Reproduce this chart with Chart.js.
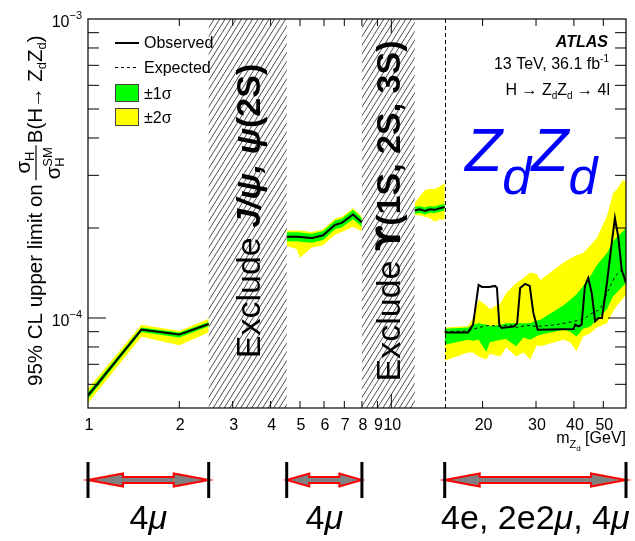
<!DOCTYPE html>
<html>
<head>
<meta charset="utf-8">
<title>ZdZd limit</title>
<script src="https://cdn.jsdelivr.net/npm/chart.js@4.4.1/dist/chart.umd.min.js"></script>
<style>
  html, body { margin: 0; padding: 0; background: #fff; }
  canvas { display: block; }
</style>
</head>
<body>
<canvas id="limitChart" width="635" height="541"></canvas>
<script>
// 4mu, 1 - 2.5 GeV
const lowMass = [1, 1.5, 2, 2.5];
const lowObs = [5.5e-5, 9.15e-5, 8.8e-5, 9.55e-5];
const lowExp = [5.5e-5, 9.12e-5, 8.8e-5, 9.55e-5];
const low1sUp = [5.63e-5, 9.3e-5, 8.95e-5, 9.7e-5];
const low1sDn = [5.37e-5, 8.98e-5, 8.6e-5, 9.38e-5];
const low2sUp = [5.8e-5, 9.5e-5, 9.05e-5, 9.95e-5];
const low2sDn = [5.2e-5, 8.65e-5, 8.1e-5, 8.95e-5];

// 4mu, between J/psi and Upsilon vetoes
const midMass = [4.52, 4.87, 5.0, 5.47, 5.96, 6.52, 6.87, 7.48, 7.99];
const midObs = [1.87e-4, 1.87e-4, 1.865e-4, 1.85e-4, 1.89e-4, 2.05e-4, 2.08e-4, 2.22e-4, 2.09e-4];
const midExp = [1.87e-4, 1.87e-4, 1.865e-4, 1.85e-4, 1.89e-4, 2.05e-4, 2.08e-4, 2.22e-4, 2.09e-4];
const mid1sUp = [1.935e-4, 1.935e-4, 1.93e-4, 1.915e-4, 1.955e-4, 2.12e-4, 2.15e-4, 2.30e-4, 2.16e-4];
const mid1sDn = [1.805e-4, 1.805e-4, 1.80e-4, 1.785e-4, 1.825e-4, 1.98e-4, 2.01e-4, 2.14e-4, 2.02e-4];
const mid2sUp = [1.96e-4, 1.96e-4, 1.96e-4, 1.94e-4, 1.98e-4, 2.15e-4, 2.18e-4, 2.33e-4, 2.19e-4];
const mid2sDn = [1.74e-4, 1.70e-4, 1.59e-4, 1.72e-4, 1.75e-4, 1.90e-4, 1.94e-4, 2.02e-4, 1.95e-4];

// 4mu, above the Upsilon veto
const upsMass = [11.95, 12.4, 12.9, 13.4, 13.9, 14.5, 15];
const upsObs = [2.29e-4, 2.31e-4, 2.28e-4, 2.31e-4, 2.30e-4, 2.33e-4, 2.35e-4];
const upsExp = [2.29e-4, 2.31e-4, 2.28e-4, 2.31e-4, 2.30e-4, 2.33e-4, 2.35e-4];
const ups1sUp = [2.35e-4, 2.37e-4, 2.34e-4, 2.37e-4, 2.36e-4, 2.39e-4, 2.41e-4];
const ups1sDn = [2.23e-4, 2.25e-4, 2.22e-4, 2.25e-4, 2.24e-4, 2.27e-4, 2.29e-4];
const ups2sUp = [2.42e-4, 2.55e-4, 2.68e-4, 2.70e-4, 2.70e-4, 2.76e-4, 2.83e-4];
const ups2sDn = [2.21e-4, 2.20e-4, 2.18e-4, 2.16e-4, 2.10e-4, 2.14e-4, 2.13e-4];

// 4e, 2e2mu, 4mu, 15 - 60 GeV
const highBandMass = [15, 17.9, 18.6, 19.4, 20.6, 21.1, 22.9, 23.9, 25.8, 27.3, 28.7, 30.2, 31.0,
  36.9, 38.9, 40.8, 42.9, 45.3, 47.6, 51.4, 53.8, 55.5, 58.1, 59.4];
const high1sUp = [9.2e-5, 9.3e-5, 9.5e-5, 9.6e-5, 9.5e-5, 9.4e-5, 9.5e-5, 9.6e-5, 9.6e-5, 9.6e-5, 9.62e-5, 9.8e-5, 9.87e-5,
  1.10e-4, 1.15e-4, 1.20e-4, 1.28e-4, 1.38e-4, 1.50e-4, 1.65e-4, 1.80e-4, 1.87e-4, 1.95e-4, 2.0e-4];
const high1sDn = [8.14e-5, 8.46e-5, 8.4e-5, 8.46e-5, 7.7e-5, 8.3e-5, 8.46e-5, 8.5e-5, 8.04e-5, 8.6e-5, 8.46e-5, 8.7e-5, 8.79e-5,
  9.14e-5, 9.0e-5, 8.68e-5, 9.2e-5, 9.37e-5, 9.9e-5, 1.07e-4, 1.18e-4, 1.22e-4, 1.28e-4, 1.31e-4];
const high2sUp = [9.3e-5, 9.4e-5, 1.0e-4, 1.15e-4, 1.10e-4, 1.07e-4, 1.12e-4, 1.21e-4, 1.31e-4, 1.36e-4, 1.42e-4, 1.40e-4, 1.34e-4,
  1.53e-4, 1.58e-4, 1.62e-4, 1.65e-4, 1.75e-4, 1.85e-4, 2.19e-4, 2.61e-4, 2.70e-4, 2.90e-4, 2.85e-4];
const high2sDn = [7.2e-5, 7.66e-5, 7.66e-5, 7.44e-5, 7.26e-5, 7.6e-5, 7.44e-5, 7.96e-5, 7.44e-5, 7.66e-5, 7.26e-5, 8.1e-5, 8.04e-5,
  8.46e-5, 8.3e-5, 7.74e-5, 8.68e-5, 8.9e-5, 9.3e-5, 9.6e-5, 1.05e-4, 1.10e-4, 1.16e-4, 1.20e-4];
const highObsMass = [15, 17.9, 18.6, 19.4, 19.9, 21.0, 22.0, 22.3, 22.7, 23.1, 25.3, 26.0, 26.6, 27.6, 28.6, 29.4, 30.4,
  39.9, 40.4, 41.5, 42.4, 43.5, 44.6, 45.8, 47.0, 48.2, 49.5, 51.4, 53.3, 54.6, 56.0, 57.5, 59.4];
const highObs = [8.95e-5, 8.95e-5, 9.5e-5, 1.29e-4, 1.27e-4, 1.27e-4, 1.28e-4, 1.26e-4, 9.5e-5, 9.26e-5, 9.37e-5, 9.6e-5,
  1.26e-4, 1.30e-4, 1.28e-4, 1.04e-4, 9.14e-5, 9.19e-5, 9.5e-5, 9.37e-5, 9.5e-5, 1.28e-4, 1.36e-4, 1.21e-4, 9.74e-5,
  1.0e-4, 1.0e-4, 1.31e-4, 1.78e-4, 2.16e-4, 1.87e-4, 1.45e-4, 1.31e-4];
const highExpMass = [15, 17.9, 19.5, 21, 23, 24.5, 26, 28, 30.2, 35, 39.9, 43, 45.3, 48.8, 52.0, 54.7, 57.5, 59.4];
const highExp = [9.0e-5, 9.05e-5, 9.3e-5, 9.45e-5, 9.35e-5, 9.5e-5, 9.3e-5, 9.45e-5, 9.37e-5, 9.5e-5, 9.74e-5,
  9.9e-5, 1.03e-4, 1.07e-4, 1.24e-4, 1.38e-4, 1.45e-4, 1.34e-4];

// vetoed resonance windows
const excludeLo = [2.5, 8.0];
const excludeHi = [4.52, 11.95];
const excludeNames = ["J/ψ, ψ(2S)", "ϒ(1S, 2S, 3S)"];

// final-state channels under the axis
const channelLo = [1, 4.52, 15];
const channelHi = [2.5, 8.0, 59.4];
const channelNames = [["4", "μ"], ["4", "μ"], ["4e, 2e2", "μ", ", 4", "μ"]];

const xTickLabels = [1, 2, 3, 4, 5, 6, 7, 8, 9, 10, 20, 30, 40, 50];
const yTickExponents = [-4, -3];

const GREEN = "#00ff00";
const YELLOW = "#ffff00";
const FONT = '"Liberation Sans", Arial, Helvetica, "DejaVu Sans", sans-serif';
const f = (size, style) => `${style || ""} ${size}px ${FONT}`;

function pts(xs, ys) {
  return xs.map((x, i) => ({ x: x, y: ys[i] }));
}

const datasets = [];

function addBand(xs, up, dn, color, order) {
  const base = datasets.length;
  datasets.push({ data: pts(xs, dn), borderWidth: 0, borderColor: "transparent", pointRadius: 0, fill: false, order: order });
  datasets.push({ data: pts(xs, up), borderWidth: 0, borderColor: "transparent", pointRadius: 0,
    fill: base, backgroundColor: color, order: order });
}

function addLine(xs, ys, width, dash, order) {
  datasets.push({ data: pts(xs, ys), borderColor: "#000", borderWidth: width, borderDash: dash,
    pointRadius: 0, fill: false, order: order });
}

const regions = [
  [lowMass, lowMass, lowMass, lowObs, lowExp, low1sUp, low1sDn, low2sUp, low2sDn],
  [midMass, midMass, midMass, midObs, midExp, mid1sUp, mid1sDn, mid2sUp, mid2sDn],
  [upsMass, upsMass, upsMass, upsObs, upsExp, ups1sUp, ups1sDn, ups2sUp, ups2sDn],
  [highBandMass, highObsMass, highExpMass, highObs, highExp, high1sUp, high1sDn, high2sUp, high2sDn]
];
regions.forEach(r => {
  addBand(r[0], r[7], r[8], YELLOW, 4);
  addBand(r[0], r[5], r[6], GREEN, 3);
  addLine(r[2], r[4], 1, [3, 3], 2);
  addLine(r[1], r[3], 2, [], 1);
});

// text made of pieces with different fonts / baseline shifts
function runs(ctx, x, y, parts, align) {
  let total = 0;
  parts.forEach(p => { ctx.font = p.font; p.w = ctx.measureText(p.t).width; total += p.w; });
  let cx = align === "right" ? x - total : align === "center" ? x - total / 2 : x;
  ctx.textAlign = "left";
  parts.forEach(p => { ctx.font = p.font; ctx.fillText(p.t, cx, y + (p.dy || 0)); cx += p.w; });
  return total;
}

const decor = {
  id: "decor",
  beforeDatasetsDraw(chart) {
    const ctx = chart.ctx, a = chart.chartArea, xs = chart.scales.x;
    excludeLo.forEach((lo, i) => {
      const x0 = xs.getPixelForValue(lo), x1 = xs.getPixelForValue(excludeHi[i]);
      const h = a.bottom - a.top, run = h / Math.tan(58 * Math.PI / 180);
      ctx.save();
      ctx.beginPath();
      ctx.rect(x0, a.top, x1 - x0, h);
      ctx.clip();
      ctx.strokeStyle = "#222";
      ctx.lineWidth = 0.8;
      ctx.beginPath();
      for (let k = x0 - run; k < x1; k += 5.5) {
        ctx.moveTo(k, a.bottom);
        ctx.lineTo(k + run, a.top);
      }
      ctx.stroke();
      ctx.restore();

      // the Upsilon glyph with curved arms comes from DejaVu
      const name = excludeNames[i], cut = name.indexOf("(");
      const head = name.slice(0, cut);
      ctx.save();
      ctx.translate((x0 + x1) / 2 + 12, 211);
      ctx.rotate(-Math.PI / 2);
      ctx.fillStyle = "#000";
      runs(ctx, 0, 0, [
        { t: "Exclude ", font: f(34) },
        { t: head, font: head === "ϒ" ? 'bold 34px "DejaVu Sans", sans-serif' : f(34, "italic bold") },
        { t: name.slice(cut), font: f(34, "bold") }
      ], "center");
      ctx.restore();
    });
  },
  afterDatasetsDraw(chart) {
    const ctx = chart.ctx, a = chart.chartArea, xs = chart.scales.x, ys = chart.scales.y;
    ctx.save();
    ctx.fillStyle = "#000";
    ctx.strokeStyle = "#000";
    ctx.textBaseline = "alphabetic";

    // boundary between the 4mu-only and all-channel ranges
    const xd = Math.round(xs.getPixelForValue(15)) + 0.5;
    ctx.lineWidth = 1;
    ctx.setLineDash([4, 3]);
    ctx.beginPath();
    ctx.moveTo(xd, a.top);
    ctx.lineTo(xd, a.bottom);
    ctx.stroke();
    ctx.setLineDash([]);

    // frame
    ctx.lineWidth = 1.2;
    ctx.strokeRect(a.left, a.top, a.right - a.left, a.bottom - a.top);

    // x ticks, both edges
    ctx.lineWidth = 1;
    ctx.beginPath();
    for (let d = 1; d <= 10; d *= 10) {
      for (let m = 1; m <= 9; m++) {
        const v = m * d, px = xs.getPixelForValue(v);
        if (px <= a.left + 0.5 || px >= a.right - 0.5) continue;
        const len = m === 1 ? 14 : 7;
        ctx.moveTo(px, a.bottom); ctx.lineTo(px, a.bottom - len);
        ctx.moveTo(px, a.top); ctx.lineTo(px, a.top + len);
      }
    }
    // y ticks, both edges
    for (let e = -5; e <= -4; e++) {
      for (let m = 1; m <= 9; m++) {
        const v = m * Math.pow(10, e), py = ys.getPixelForValue(v);
        if (py >= a.bottom - 0.5 || py <= a.top + 0.5) continue;
        const len = m === 1 ? 18 : 11;
        ctx.moveTo(a.left, py); ctx.lineTo(a.left + len, py);
        ctx.moveTo(a.right, py); ctx.lineTo(a.right - len, py);
      }
    }
    ctx.stroke();

    ctx.font = f(16);
    ctx.textAlign = "center";
    xTickLabels.forEach(v => ctx.fillText(String(v), xs.getPixelForValue(v) + 1, 430));
    yTickExponents.forEach(e => {
      const py = ys.getPixelForValue(Math.pow(10, e));
      runs(ctx, 82, py + 8, [{ t: "10", font: f(16) }, { t: "−" + Math.abs(e), font: f(11), dy: -8 }], "right");
    });

    // axis titles
    runs(ctx, 626, 443, [
      { t: "m", font: f(16) }, { t: "Z", font: f(11), dy: 5 }, { t: "d", font: f(8), dy: 8 }, { t: " [GeV]", font: f(16) }
    ], "right");

    ctx.save();
    ctx.translate(42, 386);
    ctx.rotate(-Math.PI / 2);
    const w = runs(ctx, 0, 0, [{ t: "95% CL upper limit on", font: f(20.5) }], "left");
    const fx = w + 5;
    ctx.font = f(20.5);
    const sw = ctx.measureText("σ").width;
    ctx.font = f(13);
    const smw = ctx.measureText("SM").width;
    const fw = sw + smw + 1;
    ctx.font = f(20.5); ctx.fillText("σ", fx + (fw - sw - 9) / 2, -12);
    ctx.font = f(13); ctx.fillText("H", fx + (fw - sw - 9) / 2 + sw, -8);
    ctx.font = f(20.5); ctx.fillText("σ", fx, 18);
    ctx.font = f(13); ctx.fillText("SM", fx + sw, 10); ctx.fillText("H", fx + sw, 22);
    ctx.lineWidth = 1.2;
    ctx.beginPath(); ctx.moveTo(fx - 1, -6); ctx.lineTo(fx + fw + 1, -6); ctx.stroke();
    runs(ctx, fx + fw + 3, 0, [
      { t: "B(H→ Z", font: f(20.5) }, { t: "d", font: f(13), dy: 4 },
      { t: "Z", font: f(20.5) }, { t: "d", font: f(13), dy: 4 }, { t: ")", font: f(20.5) }
    ], "left");
    ctx.restore();

    // legend
    ctx.lineWidth = 2;
    ctx.beginPath(); ctx.moveTo(115, 43); ctx.lineTo(139, 43); ctx.stroke();
    ctx.lineWidth = 1;
    ctx.setLineDash([3, 3]);
    ctx.beginPath(); ctx.moveTo(115, 67.5); ctx.lineTo(139, 67.5); ctx.stroke();
    ctx.setLineDash([]);
    ctx.strokeStyle = "#444";
    ctx.fillStyle = GREEN; ctx.fillRect(115.5, 84.5, 23, 17); ctx.strokeRect(115.5, 84.5, 23, 17);
    ctx.fillStyle = YELLOW; ctx.fillRect(115.5, 108.5, 23, 17); ctx.strokeRect(115.5, 108.5, 23, 17);
    ctx.fillStyle = "#000";
    ctx.font = f(16);
    ctx.textAlign = "left";
    ctx.fillText("Observed", 144, 48);
    ctx.fillText("Expected", 144, 73);
    ctx.fillText("±1σ", 144, 99);
    ctx.fillText("±2σ", 144, 123);

    // experiment labels
    ctx.textAlign = "right";
    ctx.font = f(16, "italic bold");
    ctx.fillText("ATLAS", 608, 47);
    runs(ctx, 609, 69, [{ t: "13 TeV, 36.1 fb", font: f(16) }, { t: "-1", font: f(10), dy: -7 }], "right");
    runs(ctx, 610, 95, [
      { t: "H → Z", font: f(16) }, { t: "d", font: f(10), dy: 4 }, { t: "Z", font: f(16) },
      { t: "d", font: f(10), dy: 4 }, { t: " → 4l", font: f(16) }
    ], "right");

    ctx.fillStyle = "#0000ff";
    runs(ctx, 465, 171, [
      { t: "Z", font: f(61, "italic") }, { t: "d", font: f(52, "italic"), dy: 23 },
      { t: "Z", font: f(61, "italic") }, { t: "d", font: f(52, "italic"), dy: 23 }
    ], "left");

    // channel ranges below the axis
    const ay = 480;
    channelLo.forEach((lo, i) => {
      const x0 = xs.getPixelForValue(lo), x1 = xs.getPixelForValue(channelHi[i]);
      const head = Math.min(35, (x1 - x0) * 0.3);
      ctx.fillStyle = "#808080";
      ctx.strokeStyle = "#ff0000";
      ctx.lineWidth = 2;
      ctx.beginPath();
      ctx.moveTo(x0, ay);
      ctx.lineTo(x0 + head, ay - 6.5);
      ctx.lineTo(x0 + head, ay - 3);
      ctx.lineTo(x1 - head, ay - 3);
      ctx.lineTo(x1 - head, ay - 6.5);
      ctx.lineTo(x1, ay);
      ctx.lineTo(x1 - head, ay + 6.5);
      ctx.lineTo(x1 - head, ay + 3);
      ctx.lineTo(x0 + head, ay + 3);
      ctx.lineTo(x0 + head, ay + 6.5);
      ctx.closePath();
      ctx.fill();
      ctx.stroke();
      ctx.strokeStyle = "#000";
      ctx.lineWidth = 3;
      ctx.beginPath();
      ctx.moveTo(x0, ay - 18); ctx.lineTo(x0, ay + 18);
      ctx.moveTo(x1, ay - 18); ctx.lineTo(x1, ay + 18);
      ctx.stroke();

      ctx.fillStyle = "#000";
      const parts = channelNames[i].map(t => ({ t: t, font: t === "μ" ? f(34, "italic") : f(34) }));
      let total = 0;
      parts.forEach(p => { ctx.font = p.font; total += ctx.measureText(p.t).width; });
      let cx = (x0 + x1) / 2;
      if (cx + total / 2 > 630) cx = 630 - total / 2;
      runs(ctx, cx, 529, parts, "center");
    });

    ctx.restore();
  }
};

new Chart(document.getElementById("limitChart"), {
  type: "line",
  data: { datasets: datasets },
  options: {
    responsive: false,
    devicePixelRatio: 1,
    animation: false,
    layout: { padding: { left: 88, top: 19, right: 9, bottom: 133 } },
    plugins: { legend: { display: false }, tooltip: { enabled: false } },
    scales: {
      x: { type: "logarithmic", min: 1, max: 59.4, display: false },
      y: { type: "logarithmic", min: 5e-5, max: 1e-3, display: false }
    }
  },
  plugins: [decor]
});
</script>
</body>
</html>
